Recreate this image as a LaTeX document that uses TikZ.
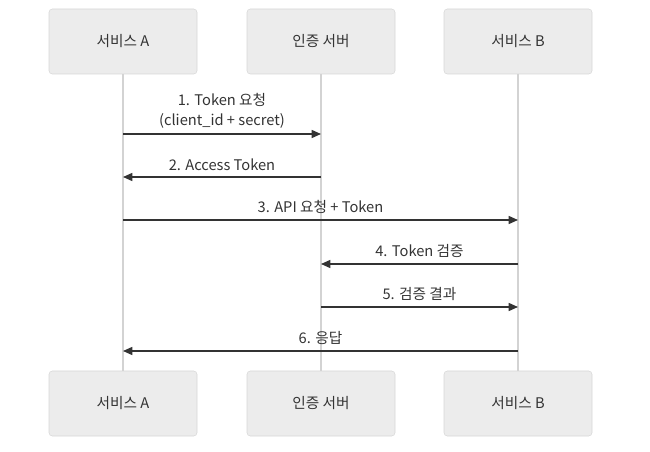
\documentclass[tikz,border=0pt]{standalone}
\usepackage{fontspec}
\setmainfont{Noto Sans CJK KR}
\usepackage{tikz}
\usetikzlibrary{arrows.meta,positioning}
\definecolor{boxfill}{HTML}{ECECEC}
\definecolor{boxline}{HTML}{D6D6D6}
\definecolor{lifegray}{HTML}{D3D3D3}
\definecolor{ink}{HTML}{333333}

\begin{document}
\begin{tikzpicture}[x=0.75pt,y=-0.75pt,>={Triangle[length=7pt,width=6pt]},
  actor/.style={draw=boxline,fill=boxfill,rounded corners=2.5pt,minimum width=111pt,minimum height=48.75pt,text=ink,font=\fontsize{11}{14}\selectfont},
  life/.style={draw=lifegray,line width=1.4pt},
  msg/.style={draw=ink,line width=1.1pt,->},
  lbl/.style={text=ink,font=\fontsize{11}{15}\selectfont,align=center,inner sep=1pt}]
  \useasboundingbox (0,0) rectangle (650,452);
  % participants, top and bottom, with lifelines
  \foreach \n/\x/\lab in {A/123/{서비스 A},S/321/{인증 서버},B/518/{서비스 B}}{
    \node[actor] (\n top) at (\x,41.5) {\lab};
    \node[actor] (\n bot) at (\x,403.5) {\lab};
    \draw[life] (\n top) -- (\n bot);
  }
  % message end points on the lifelines
  \foreach \i/\y in {1/134,2/177,3/220,4/264,5/307,6/351}{
    \coordinate (A\i) at (123,\y);
    \coordinate (S\i) at (321,\y);
    \coordinate (B\i) at (518,\y);
  }
  \draw[msg] (A1) -- node[lbl,above=3pt] {1. Token 요청\\(client\_id + secret)} (S1);
  \draw[msg] (S2) -- node[lbl,above=3pt] {2. Access Token} (A2);
  \draw[msg] (A3) -- node[lbl,above=3pt] {3. API 요청 + Token} (B3);
  \draw[msg] (B4) -- node[lbl,above=3pt] {4. Token 검증} (S4);
  \draw[msg] (S5) -- node[lbl,above=3pt] {5. 검증 결과} (B5);
  \draw[msg] (B6) -- node[lbl,above=3pt] {6. 응답} (A6);
\end{tikzpicture}
\end{document}
